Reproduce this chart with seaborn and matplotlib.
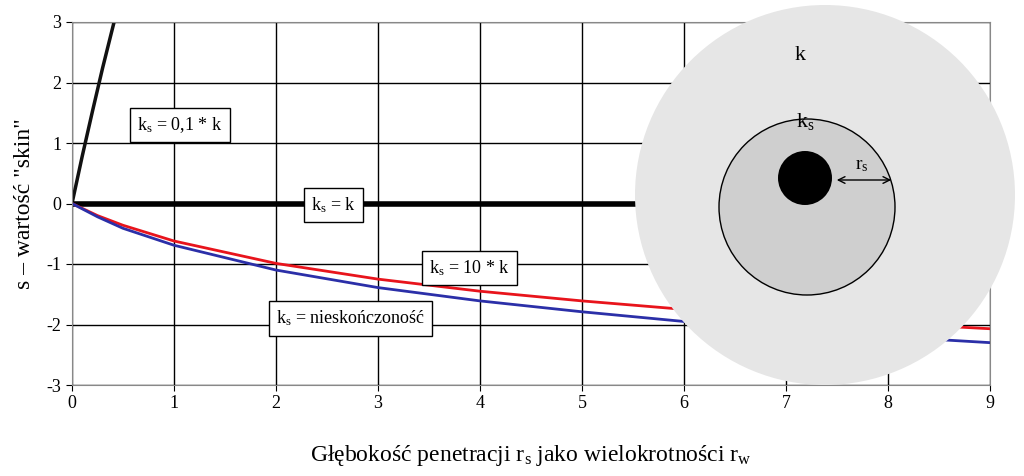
import matplotlib
matplotlib.use("Agg")
import matplotlib.pyplot as plt
import seaborn as sns
import pandas as pd
from matplotlib.patches import Circle, FancyArrowPatch

plt.rcParams["font.family"] = "Liberation Serif"
plt.rcParams["mathtext.fontset"] = "custom"
plt.rcParams["mathtext.rm"] = "Liberation Serif"
plt.rcParams["mathtext.it"] = "Liberation Serif"
plt.rcParams["axes.unicode_minus"] = False

x_black = [0, 0.1, 0.2, 0.3, 0.42]
s_black = [0, 0.78, 1.52, 2.24, 3.05]
x_flat = [0, 9]
s_flat = [0, 0]
x_curve = [0, 0.25, 0.5, 1, 2, 3, 4, 5, 6, 7, 8, 9]
s_red = [0, -0.20, -0.36, -0.62, -0.99, -1.25, -1.45, -1.61, -1.75, -1.87, -1.98, -2.07]
s_blue = [0, -0.22, -0.41, -0.69, -1.10, -1.39, -1.61, -1.79, -1.95, -2.08, -2.20, -2.30]

fig = plt.figure(figsize=(10.24, 4.76), dpi=100)
ax = fig.add_axes([72/1024, 1-385/476, 918/1024, 363/476])

sns.lineplot(x=x_black, y=s_black, ax=ax, color="#111111", lw=2.5)
sns.lineplot(x=x_flat, y=s_flat, ax=ax, color="black", lw=4)
sns.lineplot(x=x_curve, y=s_red, ax=ax, color="#e8141c", lw=2)
sns.lineplot(x=x_curve, y=s_blue, ax=ax, color="#2b2fa8", lw=2)

ax.set_xlim(0, 9); ax.set_ylim(-3, 3)
ax.set_xticks(range(10)); ax.set_yticks(range(-3, 4))
ax.grid(True, color="black", lw=1)
ax.set_axisbelow(True)
for sp in ax.spines.values():
    sp.set_color("#888888")
ax.tick_params(labelsize=13, length=4)
ax.set_xlabel("Głębokość penetracji r$_s$ jako wielokrotności r$_w$", fontsize=17, labelpad=22)
ax.set_ylabel('s – wartość "skin"', fontsize=17, labelpad=8)

box = dict(boxstyle="square,pad=0.4", fc="white", ec="black", lw=1)
for tx, ty, t in [(1.06, 1.30, "k$_s$ = 0,1 * k"), (2.56, -0.02, "k$_s$ = k"),
                  (3.9, -1.07, "k$_s$ = 10 * k"), (2.73, -1.9, "k$_s$ = nieskończoność")]:
    ax.text(tx, ty, t, ha="center", va="center", fontsize=13, bbox=box, zorder=5)

H = 476
def P(x, y):
    return (x, H - y)
fig.add_artist(Circle(P(825, 195), 190, transform=None, fc="#e6e6e6", ec="none", zorder=10))
fig.add_artist(Circle(P(807, 207), 88, transform=None, fc="#cfcfcf", ec="black", lw=1, zorder=11))
fig.add_artist(Circle(P(805, 178), 27, transform=None, fc="black", ec="none", zorder=12))
fig.add_artist(FancyArrowPatch(P(834, 180), P(894, 180), transform=None, arrowstyle="<->",
                               mutation_scale=12, color="black", lw=1, zorder=13))
fig.text(800/1024, 1-55/H, "k", fontsize=16, ha="center", va="center", zorder=14)
fig.text(805/1024, 1-122/H, "k$_s$", fontsize=16, ha="center", va="center", zorder=14)
fig.text(862/1024, 1-165/H, "r$_s$", fontsize=14, ha="center", va="center", zorder=14)

fig.savefig("out.png", dpi=100)
